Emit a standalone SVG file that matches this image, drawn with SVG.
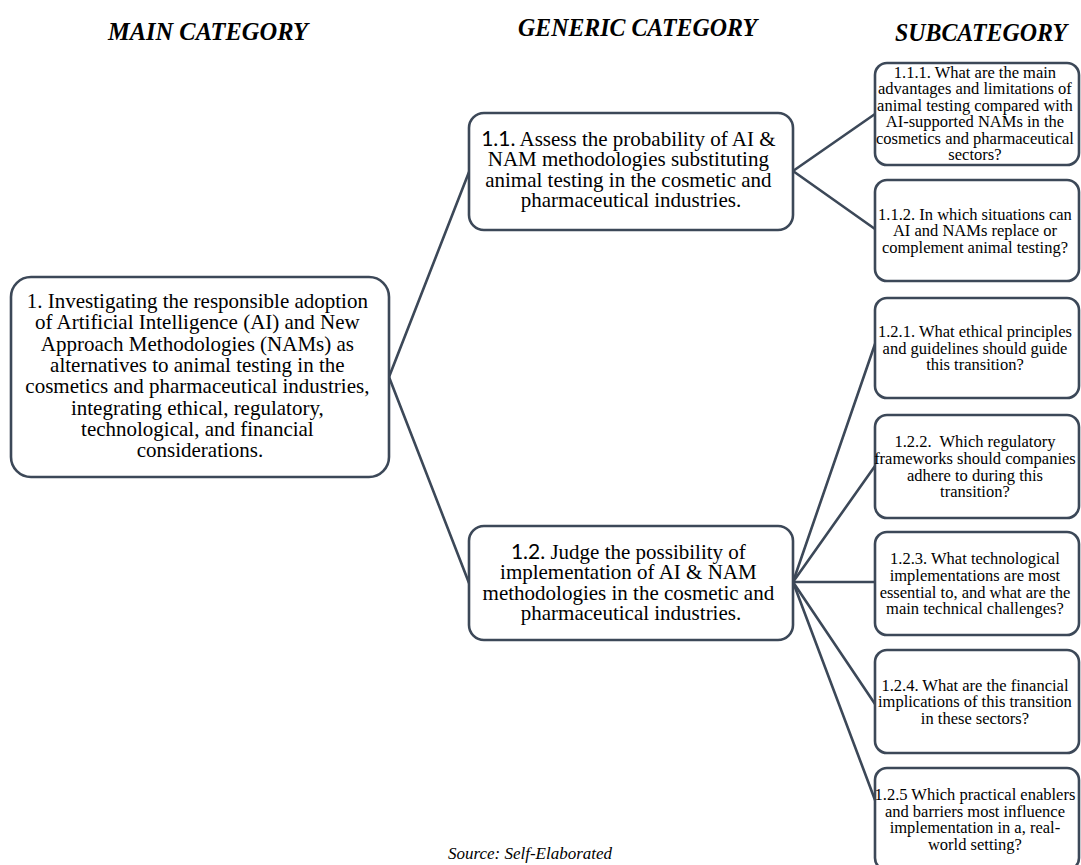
<svg xmlns="http://www.w3.org/2000/svg" width="1081" height="865" viewBox="0 0 1081 865">
<style>
.box{fill:#ffffff;stroke:#3c4858;stroke-width:2.6}
.con{stroke:#3c4858;stroke-width:2.6;fill:none;stroke-linecap:round}
.hd{font-family:"Liberation Serif",serif;font-weight:bold;font-style:italic;font-size:26px;fill:#000}
.mt{font-family:"Liberation Serif",serif;font-size:21px;fill:#000;text-anchor:middle}
.st{font-family:"Liberation Serif",serif;font-size:16.5px;fill:#000;text-anchor:middle;white-space:pre}
.num{font-family:Lato,"Liberation Sans",sans-serif}
.src{font-family:"Liberation Serif",serif;font-style:italic;font-size:17px;fill:#000;text-anchor:middle}
</style>
<rect width="1081" height="865" fill="#ffffff"/>
<g id="headers">
<text class="hd" x="108" y="40" textLength="200" lengthAdjust="spacingAndGlyphs">MAIN CATEGORY</text>
<text class="hd" x="518" y="36" textLength="239" lengthAdjust="spacingAndGlyphs">GENERIC CATEGORY</text>
<text class="hd" x="895" y="41" textLength="172" lengthAdjust="spacingAndGlyphs">SUBCATEGORY</text>
</g>
<g id="connectors">
<line class="con" x1="389" y1="377" x2="469" y2="172"/>
<line class="con" x1="389" y1="377" x2="469" y2="583"/>
<line class="con" x1="793" y1="171" x2="875" y2="114"/>
<line class="con" x1="793" y1="171" x2="875" y2="229"/>
<line class="con" x1="793" y1="582" x2="875" y2="344"/>
<line class="con" x1="793" y1="582" x2="875" y2="466"/>
<line class="con" x1="793" y1="582" x2="875" y2="582"/>
<line class="con" x1="793" y1="582" x2="875" y2="704"/>
<line class="con" x1="793" y1="582" x2="875" y2="800"/>
</g>
<g id="node-main">
<rect class="box" x="11" y="277" width="378" height="200" rx="20"/>
<text class="mt">
<tspan x="200" y="308">1. Investigating the responsible adoption</tspan>
<tspan x="200" y="329.3">of Artificial Intelligence (AI) and New</tspan>
<tspan x="200" y="350.6">Approach Methodologies (NAMs) as</tspan>
<tspan x="200" y="371.9">alternatives to animal testing in the</tspan>
<tspan x="200" y="393.2">cosmetics and pharmaceutical industries,</tspan>
<tspan x="200" y="414.5">integrating ethical, regulatory,</tspan>
<tspan x="200" y="435.8">technological, and financial</tspan>
<tspan x="200" y="457">considerations.</tspan>
</text>
</g>
<g id="node-1-1">
<rect class="box" x="469" y="113" width="324" height="117" rx="15"/>
<text class="mt">
<tspan x="631" y="145.5"><tspan class="num">1.1.</tspan> Assess the probability of AI &amp;</tspan>
<tspan x="631" y="166">NAM methodologies substituting</tspan>
<tspan x="631" y="186.5">animal testing in the cosmetic and</tspan>
<tspan x="631" y="207">pharmaceutical industries.</tspan>
</text>
</g>
<g id="node-1-2">
<rect class="box" x="469" y="526" width="324" height="114" rx="15"/>
<text class="mt">
<tspan x="631" y="558.5"><tspan class="num">1.2.</tspan> Judge the possibility of</tspan>
<tspan x="631" y="579">implementation of AI &amp; NAM</tspan>
<tspan x="631" y="599.5">methodologies in the cosmetic and</tspan>
<tspan x="631" y="620">pharmaceutical industries.</tspan>
</text>
</g>
<g id="node-1-1-1">
<rect class="box" x="875" y="63" width="204" height="102" rx="12"/>
<text class="st">
<tspan x="977" y="77.5">1.1.1. What are the main</tspan>
<tspan x="977" y="94">advantages and limitations of</tspan>
<tspan x="977" y="110.6">animal testing compared with</tspan>
<tspan x="977" y="127.2">AI-supported NAMs in the</tspan>
<tspan x="977" y="143.8">cosmetics and pharmaceutical</tspan>
<tspan x="977" y="160.4">sectors?</tspan>
</text>
</g>
<g id="node-1-1-2">
<rect class="box" x="875" y="180" width="204" height="101" rx="12"/>
<text class="st">
<tspan x="977" y="219.7">1.1.2. In which situations can</tspan>
<tspan x="977" y="236.3">AI and NAMs replace or</tspan>
<tspan x="977" y="252.9">complement animal testing?</tspan>
</text>
</g>
<g id="node-1-2-1">
<rect class="box" x="875" y="298" width="204" height="100" rx="12"/>
<text class="st">
<tspan x="977" y="337.2">1.2.1. What ethical principles</tspan>
<tspan x="977" y="353.8">and guidelines should guide</tspan>
<tspan x="977" y="370.4">this transition?</tspan>
</text>
</g>
<g id="node-1-2-2">
<rect class="box" x="875" y="415" width="204" height="103" rx="12"/>
<text class="st">
<tspan x="977" y="447.4">1.2.2.  Which regulatory</tspan>
<tspan x="977" y="464">frameworks should companies</tspan>
<tspan x="977" y="480.6">adhere to during this</tspan>
<tspan x="977" y="497.2">transition?</tspan>
</text>
</g>
<g id="node-1-2-3">
<rect class="box" x="875" y="532" width="204" height="103" rx="12"/>
<text class="st">
<tspan x="977" y="564.4">1.2.3. What technological</tspan>
<tspan x="977" y="581">implementations are most</tspan>
<tspan x="977" y="597.6">essential to, and what are the</tspan>
<tspan x="977" y="614.2">main technical challenges?</tspan>
</text>
</g>
<g id="node-1-2-4">
<rect class="box" x="875" y="650" width="204" height="103" rx="12"/>
<text class="st">
<tspan x="977" y="690.7">1.2.4. What are the financial</tspan>
<tspan x="977" y="707.3">implications of this transition</tspan>
<tspan x="977" y="723.9">in these sectors?</tspan>
</text>
</g>
<g id="node-1-2-5">
<rect class="box" x="875" y="768" width="204" height="102" rx="12"/>
<text class="st">
<tspan x="977" y="800">1.2.5 Which practical enablers</tspan>
<tspan x="977" y="816.6">and barriers most influence</tspan>
<tspan x="977" y="833.2">implementation in a, real-</tspan>
<tspan x="977" y="849.8">world setting?</tspan>
</text>
</g>
<g id="source">
<text class="src" x="530" y="859">Source: Self-Elaborated</text>
</g>
</svg>
